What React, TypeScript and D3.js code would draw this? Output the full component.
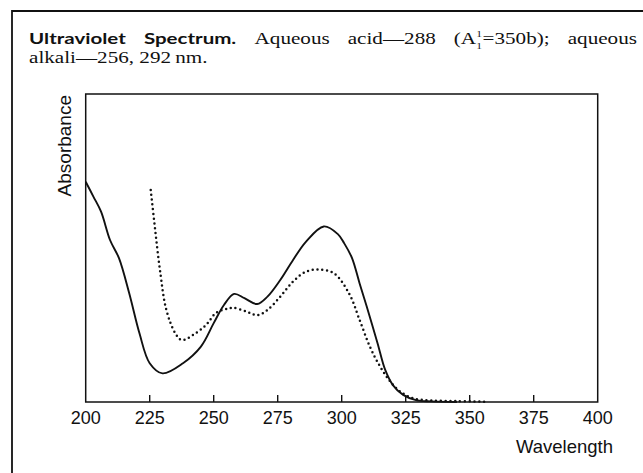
import React, { useRef, useEffect } from "react";
import * as d3 from "d3";

const WIDTH = 643;
const HEIGHT = 473;

const wavelengthTicks = [200, 225, 250, 275, 300, 325, 350, 375, 400];

// solid trace (aqueous alkali)
const solidWavelength = [200, 203, 206, 209.5, 213, 217, 221, 225, 230, 238, 245, 250, 254, 258, 262, 267, 271, 276, 281, 286, 293, 298.5, 301, 304, 307, 310.5, 314, 317, 320, 324, 329, 335, 345];
const solidAbsorbance = [0.715, 0.667, 0.618, 0.526, 0.467, 0.353, 0.223, 0.126, 0.093, 0.126, 0.18, 0.256, 0.315, 0.351, 0.337, 0.318, 0.342, 0.396, 0.461, 0.52, 0.57, 0.545, 0.515, 0.468, 0.385, 0.29, 0.191, 0.104, 0.055, 0.023, 0.006, 0.002, 0];

// dotted trace (aqueous acid)
const dottedWavelength = [225.4, 227, 229, 231.5, 235, 237.5, 242, 247, 251, 255, 257.7, 263, 267, 271, 276, 281, 286, 291, 297, 303, 307, 311, 315, 319, 323, 328, 335, 345, 356];
const dottedAbsorbance = [0.688, 0.569, 0.429, 0.299, 0.223, 0.201, 0.218, 0.25, 0.29, 0.302, 0.306, 0.293, 0.282, 0.299, 0.342, 0.391, 0.423, 0.43, 0.418, 0.35, 0.266, 0.18, 0.115, 0.066, 0.033, 0.012, 0.005, 0.003, 0.001];

const titleWords = ["Ultraviolet", "Spectrum.", "Aqueous", "acid\u2014288", "(A11=350b);", "aqueous"];
const titleLine2 = "alkali\u2014256, 292\u2009nm.";

const SANS = "'Liberation Sans', Arial, sans-serif";
const SERIF = "'Liberation Serif', 'Times New Roman', serif";
const TITLE_SANS = "Lato, 'Open Sans', sans-serif";

function App() {
  const svgRef = useRef<SVGSVGElement>(null);

  useEffect(() => {
    const svg = d3.select(svgRef.current);
    svg.selectAll("*").remove();

    const left = 85.7;
    const right = 597.7;
    const top = 94;
    const bottom = 402;

    const x = d3.scaleLinear().domain([200, 400]).range([left, right]);
    const y = d3.scaleLinear().domain([0, 1]).range([bottom, top]);

    // outer frame (runs off the page on the right and bottom)
    svg
      .append("path")
      .attr("d", `M12,${HEIGHT + 2} V11 H${WIDTH + 2}`)
      .attr("fill", "none")
      .attr("stroke", "#111")
      .attr("stroke-width", 1.8);

    // title: first line is justified between the two edges
    const x0 = 29;
    const x1 = 637;
    const wordGap = 18;
    const boldSize = 16;
    const serifSize = 16.5;
    const base1 = 44;
    const base2 = 63;

    const line1 = svg.append("g");
    const groups = titleWords.map((word, i) => {
      const bold = i < 2;
      const g = line1.append("g");
      if (word.startsWith("(A")) {
        // A with a stacked 1 above and 1 below
        const t = g
          .append("text")
          .attr("y", base1)
          .attr("fill", "#111")
          .style("font-family", SERIF)
          .style("font-size", serifSize + "px");
        t.append("tspan").text("(A");
        t.append("tspan").attr("dy", -7).style("font-size", "9px").text("1");
        const w = (t.node() as SVGTextElement).getComputedTextLength();
        g.append("text")
          .attr("x", w - 4.5)
          .attr("y", base1 + 5)
          .attr("fill", "#111")
          .style("font-family", SERIF)
          .style("font-size", "9px")
          .text("1");
        g.append("text")
          .attr("x", w + 0.5)
          .attr("y", base1)
          .attr("fill", "#111")
          .style("font-family", SERIF)
          .style("font-size", serifSize + "px")
          .text("=350b);");
      } else {
        g.append("text")
          .attr("y", base1)
          .attr("fill", "#111")
          .style("font-family", bold ? TITLE_SANS : SERIF)
          .style("font-weight", bold ? 700 : 400)
          .style("font-size", (bold ? boldSize : serifSize) + "px")
          .text(word);
      }
      return g;
    });
    const natural = groups.map((g) => (g.node() as SVGGElement).getBBox().width);
    // the scan is stretched sideways, so the words are widened to fill the line
    const k = (x1 - x0 - wordGap * (natural.length - 1)) / d3.sum(natural);
    let cursor = x0;
    groups.forEach((g, i) => {
      g.attr("transform", `translate(${cursor},0) scale(${k},1)`);
      cursor += natural[i] * k + wordGap;
    });

    svg
      .append("text")
      .attr("transform", `translate(${x0},${base2}) scale(${k},1)`)
      .attr("fill", "#111")
      .style("font-family", SERIF)
      .style("font-size", serifSize + "px")
      .text(titleLine2);

    // plot frame
    svg
      .append("rect")
      .attr("x", left)
      .attr("y", top)
      .attr("width", right - left)
      .attr("height", bottom - top)
      .attr("fill", "none")
      .attr("stroke", "#111")
      .attr("stroke-width", 1.5);

    // ticks pointing into the plot
    svg
      .selectAll(".tick")
      .data(wavelengthTicks.slice(1, -1))
      .enter()
      .append("line")
      .attr("x1", (d) => x(d))
      .attr("x2", (d) => x(d))
      .attr("y1", bottom)
      .attr("y2", bottom - 7)
      .attr("stroke", "#111")
      .attr("stroke-width", 1.4);

    svg
      .selectAll(".tick-label")
      .data(wavelengthTicks)
      .enter()
      .append("text")
      .attr("x", (d) => x(d))
      .attr("y", 423.5)
      .attr("text-anchor", "middle")
      .attr("fill", "#111")
      .style("font-family", SANS)
      .style("font-size", "18px")
      .text((d) => d);

    svg
      .append("text")
      .attr("x", 613)
      .attr("y", 453)
      .attr("text-anchor", "end")
      .attr("fill", "#111")
      .style("font-family", SANS)
      .style("font-size", "18.5px")
      .text("Wavelength");

    svg
      .append("text")
      .attr("transform", `translate(70.5,95) rotate(-90)`)
      .attr("text-anchor", "end")
      .attr("fill", "#111")
      .style("font-family", SANS)
      .style("font-size", "19px")
      .text("Absorbance");

    const line = d3
      .line<[number, number]>()
      .x((d) => x(d[0]))
      .y((d) => y(d[1]))
      .curve(d3.curveCatmullRom.alpha(0.5));

    const solid = solidWavelength.map((w, i) => [w, solidAbsorbance[i]] as [number, number]);
    const dotted = dottedWavelength.map((w, i) => [w, dottedAbsorbance[i]] as [number, number]);

    svg
      .append("path")
      .attr("d", line(dotted))
      .attr("fill", "none")
      .attr("stroke", "#111")
      .attr("stroke-width", 2.5)
      .attr("stroke-linecap", "round")
      .attr("stroke-dasharray", "0 4.8");

    svg
      .append("path")
      .attr("d", line(solid))
      .attr("fill", "none")
      .attr("stroke", "#111")
      .attr("stroke-width", 1.9);
  }, []);

  return (
    <div style={{ position: "fixed", left: 0, top: 0, width: WIDTH, height: HEIGHT, background: "#fff" }}>
      <svg ref={svgRef} width={WIDTH} height={HEIGHT} style={{ display: "block" }}></svg>
    </div>
  );
}

export default App;
